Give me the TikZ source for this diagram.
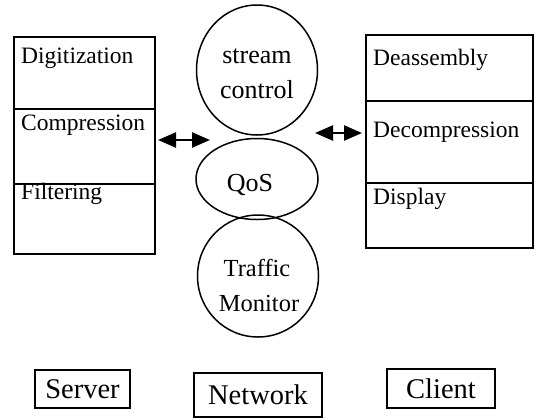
\documentclass[tikz,border=0pt]{standalone}
\usepackage{fontspec}
\setmainfont{Liberation Serif}
\usetikzlibrary{arrows.meta,shapes.geometric}
\begin{document}
\begin{tikzpicture}[x=1pt,y=-1pt,
  sect/.style={draw,line width=1.7pt,rectangle,inner sep=0pt,anchor=north west},
  boxtxt/.style={anchor=base west,inner sep=0pt,font=\fontsize{23.5}{25}\selectfont},
  circ/.style={draw,line width=1.5pt,ellipse,inner sep=0pt},
  circtxt/.style={inner sep=0pt,font=\fontsize{26}{28}\selectfont,anchor=base},
  circtxtb/.style={inner sep=0pt,font=\fontsize{24.5}{26}\selectfont,anchor=base},
  lbl/.style={draw,line width=1.5pt,rectangle,inner sep=0pt,font=\fontsize{28.5}{30}\selectfont},
  dbl/.style={{Triangle[length=18pt,width=15pt]}-{Triangle[length=18pt,width=15pt]},line width=2.4pt}]
\useasboundingbox (0,0) rectangle (537,418);
% server stack
\node[sect,minimum width=141pt,minimum height=72pt] (s1) at (13,36) {};
\node[sect,minimum width=141pt,minimum height=75pt] (s2) at (13,108) {};
\node[sect,minimum width=141pt,minimum height=70pt] (s3) at (13,183) {};
\node[boxtxt] (t1) at (21,63) {Digitization};
\node[boxtxt] (t2) at (21,130) {Compression};
\node[boxtxt] (t3) at (21,199) {Filtering};
% client stack
\node[sect,minimum width=167pt,minimum height=66pt] (c1) at (365,34) {};
\node[sect,minimum width=167pt,minimum height=82pt] (c2) at (365,100) {};
\node[sect,minimum width=167pt,minimum height=65pt] (c3) at (365,182) {};
\node[boxtxt] (u1) at (373,65) {Deassembly};
\node[boxtxt] (u2) at (373,137) {Decompression};
\node[boxtxt] (u3) at (373,204) {Display};
% network circles
\node[circ,minimum width=121pt,minimum height=130pt] (sc) at (257,70) {};
\node[circtxt] (sct1) at (257,63) {stream};
\node[circtxt] (sct2) at (257,98) {control};
\node[circ,minimum width=122pt,minimum height=81pt] (q) at (257,179) {};
\node[circtxt] (qt) at (250,191) {QoS};
\node[circ,minimum width=121pt,minimum height=122pt] (tm) at (258,276) {};
\node[circtxtb] (tmt1) at (257,276) {Traffic};
\node[circtxtb] (tmt2) at (259,311) {Monitor};
% arrows
\coordinate (la) at (158,140);
\coordinate (lb) at (210,140);
\coordinate (ra) at (315,133);
\coordinate (rb) at (362,133);
\draw[dbl] (la) -- (lb);
\draw[dbl] (ra) -- (rb);
% labels
\node[lbl,minimum width=95pt,minimum height=38pt] (srv) at (82.5,389) {Server};
\node[lbl,minimum width=128pt,minimum height=44pt] (net) at (258,395) {Network};
\node[lbl,minimum width=108pt,minimum height=39pt] (cli) at (441,388.5) {Client};
\end{tikzpicture}
\end{document}
